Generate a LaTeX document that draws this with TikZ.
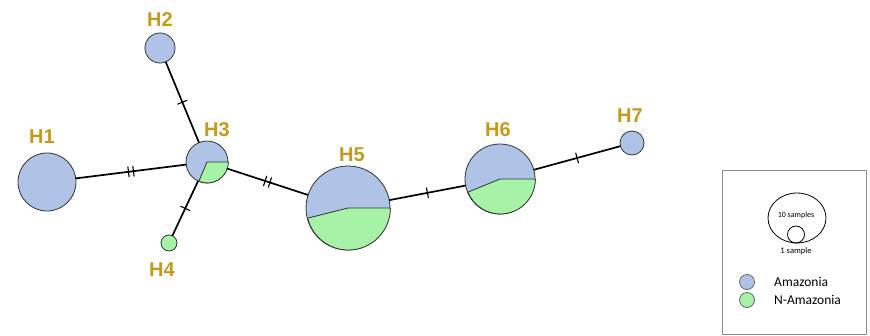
\documentclass[tikz,border=0pt]{standalone}
\usepackage{fontspec}
\setmainfont{Liberation Sans}
\newfontfamily\legfont{Carlito}
\usetikzlibrary{decorations.markings}
\definecolor{amaz}{HTML}{AFC3E6}
\definecolor{namaz}{HTML}{A6F2A6}
\definecolor{hapgold}{HTML}{C49A1C}
\tikzset{
  hap/.style={circle, draw=black!80, line width=0.8pt, fill=amaz, inner sep=0pt},
  hlab/.style={font=\bfseries\fontsize{20}{20}\selectfont, text=hapgold, inner sep=0pt},
  link/.style={line width=1.7pt},
  tickone/.style={postaction={decorate}, decoration={markings,
      mark=at position 0.5 with {\draw[line width=1.1pt] (0,-5pt)--(0,5pt);}}},
  ticktwo/.style={postaction={decorate}, decoration={markings,
      mark=at position 0.5 with {\draw[line width=1.1pt] (-2.5pt,-5pt)--(-2.5pt,5pt) (2.5pt,-5pt)--(2.5pt,5pt);}}}
}
\begin{document}
\begin{tikzpicture}[x=1pt, y=1pt, line join=round, line cap=round]
  \useasboundingbox (0,0) rectangle (870,-335);
  % haplotypes
  \node[hap, minimum size=58pt] (h1) at (47,-182) {};
  \node[hap, minimum size=30pt] (h2) at (160,-48) {};
  \node[hap, minimum size=42pt] (h3) at (207,-162) {};
  \node[hap, minimum size=16pt, fill=namaz] (h4) at (169,-243) {};
  \node[hap, minimum size=84pt] (h5) at (348,-208) {};
  \node[hap, minimum size=70pt] (h6) at (500,-179) {};
  \node[hap, minimum size=24pt] (h7) at (632,-143) {};
  % green parts
  \filldraw[fill=namaz, draw=black!80, line width=0.8pt] (h3.center) -- (h3.east) arc[start angle=0, end angle=-114, radius=21] -- cycle;
  \filldraw[fill=namaz, draw=black!80, line width=0.8pt] (h5.center) -- (h5.east) arc[start angle=0, end angle=-166, radius=42] -- cycle;
  \filldraw[fill=namaz, draw=black!80, line width=0.8pt] (h6.center) -- (h6.east) arc[start angle=0, end angle=-158, radius=35] -- cycle;
  % links
  \draw[link, ticktwo] (h1) -- (h3);
  \draw[link, tickone] (h2) -- (h3);
  \draw[link, tickone] (h3) -- (h4);
  \draw[link, ticktwo] (h3) -- (h5);
  \draw[link, tickone] (h5) -- (h6);
  \draw[link, tickone] (h6) -- (h7);
  % labels
  \node[hlab] (l1) at (42,-137) {H1};
  \node[hlab] (l2) at (160,-20) {H2};
  \node[hlab] (l3) at (217,-130) {H3};
  \node[hlab] (l4) at (162,-270) {H4};
  \node[hlab] (l5) at (352,-155) {H5};
  \node[hlab] (l6) at (498,-130) {H6};
  \node[hlab] (l7) at (630,-116) {H7};
  % legend
  \draw[black!45, line width=0.8pt] (722,-170) rectangle (866,-334.5);
  \draw[line width=0.8pt] (797,-218) ellipse[x radius=29, y radius=25];
  \draw[line width=0.8pt] (796,-234.5) circle[radius=8.5];
  \node[font=\legfont\fontsize{8}{8}\selectfont, inner sep=0pt] (ten) at (796,-215) {10 samples};
  \node[font=\legfont\fontsize{8.5}{8.5}\selectfont, inner sep=0pt] (one) at (796,-251) {1 sample};
  \node[hap, draw=black!60, minimum size=15pt] (ka) at (747,-282) {};
  \node[hap, draw=black!60, minimum size=15pt, fill=namaz] (kn) at (747,-300) {};
  \node[font=\legfont\fontsize{13.5}{13.5}\selectfont, anchor=west, inner sep=0pt] (ta) at (774,-282) {Amazonia};
  \node[font=\legfont\fontsize{13.5}{13.5}\selectfont, anchor=west, inner sep=0pt] (tn) at (774,-300) {N-Amazonia};
\end{tikzpicture}
\end{document}
